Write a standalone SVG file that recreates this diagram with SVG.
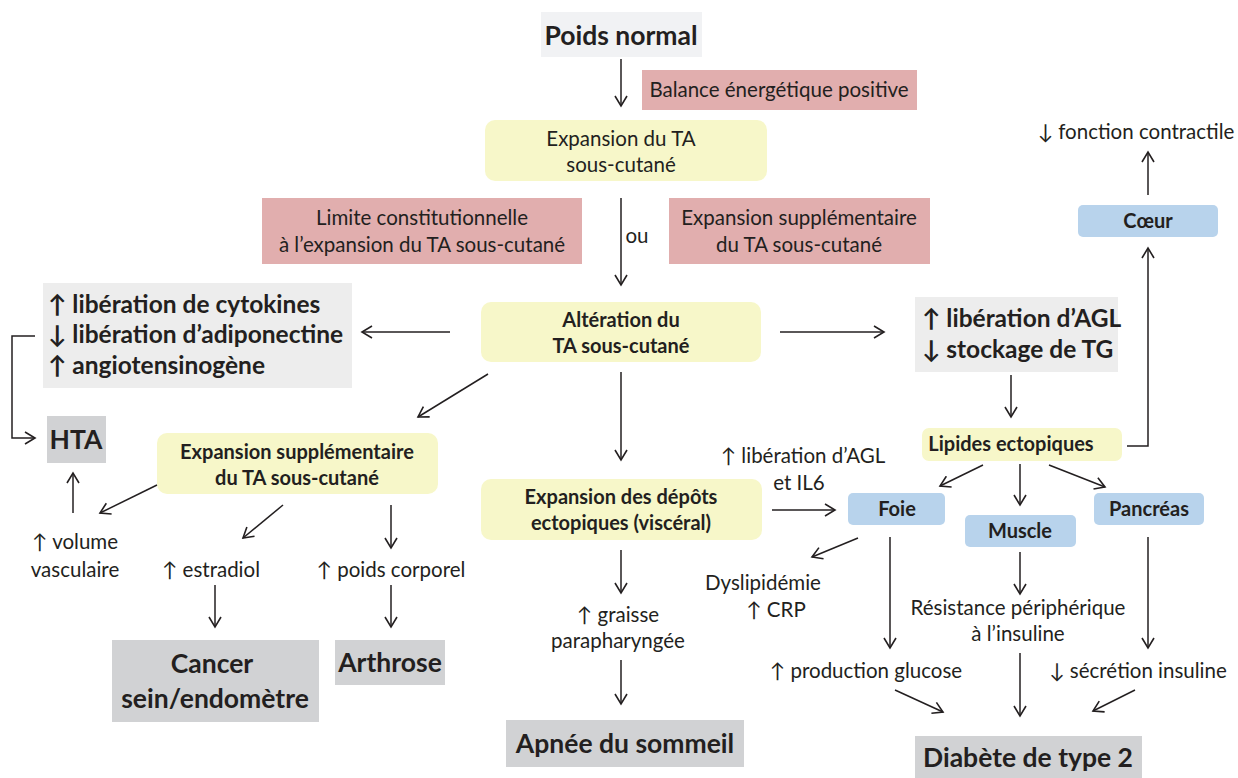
<svg xmlns="http://www.w3.org/2000/svg" width="1238" height="778" viewBox="0 0 1238 778">
<defs>
<marker id="ah" markerUnits="userSpaceOnUse" markerWidth="14" markerHeight="14" refX="11" refY="7" orient="auto" viewBox="0 0 14 14">
<path d="M1,1 L11,7 L1,13" fill="none" stroke="#231f20" stroke-width="1.6"/>
</marker>
</defs>
<style>
text{font-family:Lato,"Liberation Sans",sans-serif;fill:#231f20;text-anchor:middle}
.r{font-size:20.5px}
.b{font-size:20px;font-weight:bold}
.B{font-size:24.5px;font-weight:bold}
.H{font-size:26.5px;font-weight:bold}
.l{text-anchor:start}
.pink{fill:#e1aeae}
.yel{fill:#f7f7c9}
.blue{fill:#b8d3ec}
.lg{fill:#ededed}
.dg{fill:#d1d2d4}
.w{fill:#f1f2f4}
#connectors line,#connectors polyline{stroke:#231f20;stroke-width:1.5;fill:none}
</style>
<rect width="1238" height="778" fill="#ffffff"/>

<g id="poids-normal"><rect class="w" x="541" y="12" width="161" height="45"/><text class="H" x="621" y="45">Poids normal</text></g>
<g id="balance"><rect class="pink" x="642" y="70" width="275" height="40"/><text class="r" x="779" y="97">Balance énergétique positive</text></g>
<g id="expansion-ta"><rect class="yel" x="485" y="120" width="282" height="61" rx="10"/><text class="r" x="621" y="146">Expansion du TA</text><text class="r" x="621" y="172">sous-cutané</text></g>
<g id="limite"><rect class="pink" x="262" y="198" width="320" height="66"/><text class="r" x="422" y="225">Limite constitutionnelle</text><text class="r" x="422" y="252">à l’expansion du TA sous-cutané</text></g>
<g id="expansion-supp-pink"><rect class="pink" x="669" y="198" width="261" height="66"/><text class="r" x="799" y="225">Expansion supplémentaire</text><text class="r" x="799" y="252">du TA sous-cutané</text></g>
<g id="ou"><text class="r" x="637" y="243">ou</text></g>
<g id="alteration"><rect class="yel" x="481" y="302" width="280" height="60" rx="10"/><text class="b" x="621" y="327">Altération du</text><text class="b" x="621" y="353">TA sous-cutané</text></g>
<g id="cytokines"><rect class="lg" x="43" y="283" width="309" height="105"/><text class="B l" x="48" y="313">↑ libération de cytokines</text><text class="B l" x="48" y="343">↓ libération d’adiponectine</text><text class="B l" x="48" y="374">↑ angiotensinogène</text></g>
<g id="hta"><rect class="dg" x="47" y="416" width="59" height="47"/><text class="H" x="76" y="449">HTA</text></g>
<g id="expansion-supp"><rect class="yel" x="157" y="433" width="281" height="61" rx="10"/><text class="b" x="297" y="459">Expansion supplémentaire</text><text class="b" x="297" y="485">du TA sous-cutané</text></g>
<g id="volume"><text class="r" x="75" y="549">↑ volume</text><text class="r" x="75" y="577">vasculaire</text></g>
<g id="estradiol"><text class="r" x="211" y="577">↑ estradiol</text></g>
<g id="poids-corporel"><text class="r" x="391" y="577">↑ poids corporel</text></g>
<g id="cancer"><rect class="dg" x="112" y="640" width="207" height="82"/><text class="H" x="212" y="673">Cancer</text><text class="H" x="215" y="708">sein/endomètre</text></g>
<g id="arthrose"><rect class="dg" x="335" y="640" width="110" height="45"/><text class="H" x="390" y="672">Arthrose</text></g>
<g id="depots"><rect class="yel" x="481" y="479" width="281" height="61" rx="10"/><text class="b" x="621" y="504">Expansion des dépôts</text><text class="b" x="621" y="530">ectopiques (viscéral)</text></g>
<g id="graisse"><text class="r" x="618" y="622">↑ graisse</text><text class="r" x="618" y="648">parapharyngée</text></g>
<g id="apnee"><rect class="dg" x="506" y="720" width="238" height="47"/><text class="H" x="625" y="753">Apnée du sommeil</text></g>
<g id="agl"><rect class="lg" x="915" y="297" width="203" height="75"/><text class="B l" x="922" y="327">↑ libération d’AGL</text><text class="B l" x="922" y="358">↓ stockage de TG</text></g>
<g id="lipides"><rect class="yel" x="922" y="428" width="200" height="33" rx="7"/><text class="b" x="1011" y="451">Lipides ectopiques</text></g>
<g id="coeur"><rect class="blue" x="1078" y="205" width="140" height="32" rx="5"/><text class="b" x="1148" y="228">Cœur</text></g>
<g id="fonction"><text class="r" x="1136" y="139">↓ fonction contractile</text></g>
<g id="agl-il6"><text class="r" x="803" y="463">↑ libération d’AGL</text><text class="r" x="799" y="490">et IL6</text></g>
<g id="foie"><rect class="blue" x="848" y="493" width="97" height="32" rx="5"/><text class="b" x="897" y="516">Foie</text></g>
<g id="muscle"><rect class="blue" x="965" y="515" width="111" height="32" rx="5"/><text class="b" x="1020" y="538">Muscle</text></g>
<g id="pancreas"><rect class="blue" x="1094" y="493" width="110" height="32" rx="5"/><text class="b" x="1149" y="516">Pancréas</text></g>
<g id="dyslipidemie"><text class="r" x="763" y="590">Dyslipidémie</text><text class="r" x="776" y="617">↑ CRP</text></g>
<g id="glucose"><text class="r" x="866" y="678">↑ production glucose</text></g>
<g id="resistance"><text class="r" x="1018" y="615">Résistance périphérique</text><text class="r" x="1018" y="641">à l’insuline</text></g>
<g id="secretion"><text class="r" x="1138" y="678">↓ sécrétion insuline</text></g>
<g id="diabete"><rect class="dg" x="915" y="736" width="227" height="42"/><text class="H" x="1028" y="767">Diabète de type 2</text></g>

<g id="connectors" marker-end="url(#ah)">
<line x1="621" y1="59" x2="621" y2="106"/>
<line x1="621" y1="198" x2="621" y2="285"/>
<line x1="450" y1="332" x2="362" y2="332"/>
<polyline points="35,336 12,336 12,438 35,438"/>
<line x1="488" y1="374" x2="418" y2="417"/>
<line x1="157" y1="485" x2="100" y2="513"/>
<line x1="73" y1="513" x2="73" y2="473"/>
<line x1="283" y1="505" x2="243" y2="538"/>
<line x1="391" y1="505" x2="391" y2="548"/>
<line x1="215" y1="585" x2="215" y2="627"/>
<line x1="391" y1="585" x2="391" y2="627"/>
<line x1="621" y1="372" x2="621" y2="460"/>
<line x1="621" y1="550" x2="621" y2="593"/>
<line x1="621" y1="660" x2="621" y2="704"/>
<line x1="780" y1="332" x2="884" y2="332"/>
<line x1="1011" y1="375" x2="1011" y2="417"/>
<polyline points="1127,446 1148,446 1148,248"/>
<line x1="1148" y1="195" x2="1148" y2="152"/>
<line x1="983" y1="465" x2="940" y2="486"/>
<line x1="1020" y1="464" x2="1020" y2="505"/>
<line x1="1049" y1="465" x2="1105" y2="487"/>
<line x1="772" y1="510" x2="835" y2="510"/>
<line x1="858" y1="538" x2="812" y2="557"/>
<line x1="890" y1="537" x2="890" y2="648"/>
<line x1="895" y1="690" x2="943" y2="712"/>
<line x1="1020" y1="552" x2="1020" y2="594"/>
<line x1="1020" y1="653" x2="1020" y2="716"/>
<line x1="1148" y1="537" x2="1148" y2="648"/>
<line x1="1135" y1="690" x2="1093" y2="711"/>
</g>
</svg>
